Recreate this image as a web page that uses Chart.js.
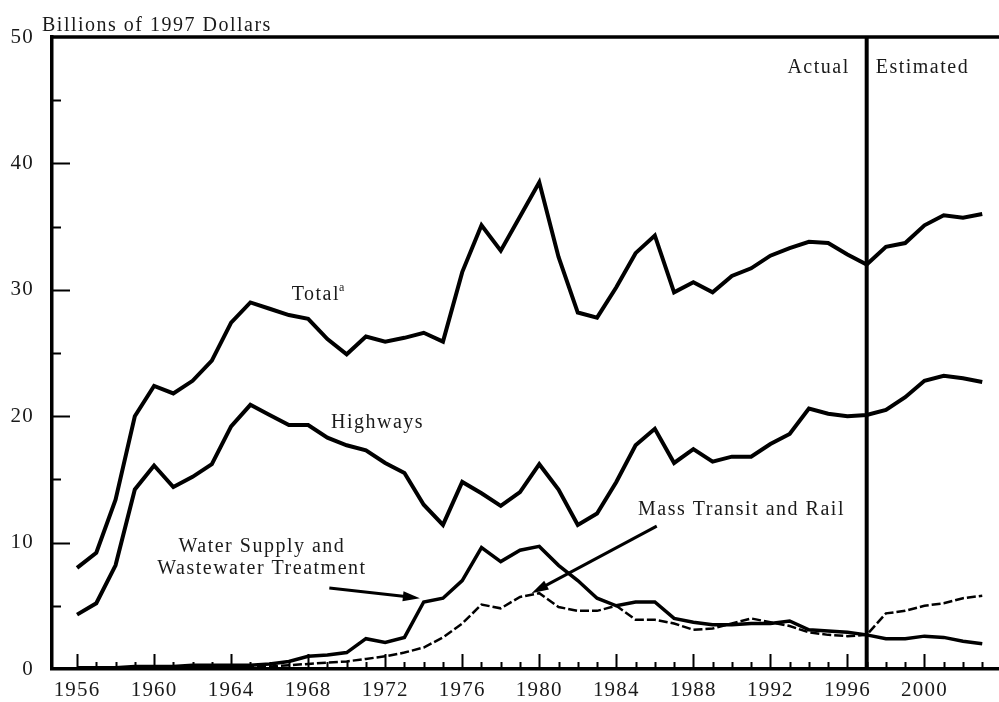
<!DOCTYPE html>
<html>
<head>
<meta charset="utf-8">
<script src="https://cdn.jsdelivr.net/npm/chart.js@4.4.1/dist/chart.umd.min.js"></script>
<style>
html, body { margin: 0; padding: 0; background: #fff; }
</style>
</head>
<body>
<canvas id="infraChart" width="999" height="702"></canvas>
<script>
// data, billions of 1997 dollars
var years = [1956, 1957, 1958, 1959, 1960, 1961, 1962, 1963, 1964, 1965,
  1966, 1967, 1968, 1969, 1970, 1971, 1972, 1973, 1974, 1975,
  1976, 1977, 1978, 1979, 1980, 1981, 1982, 1983, 1984, 1985,
  1986, 1987, 1988, 1989, 1990, 1991, 1992, 1993, 1994, 1995,
  1996, 1997, 1998, 1999, 2000, 2001, 2002, 2003];

var total = [8.0, 9.2, 13.4, 20.0, 22.4, 21.8, 22.8, 24.4, 27.4, 29.0,
  28.5, 28.0, 27.7, 26.1, 24.9, 26.3, 25.9, 26.2, 26.6, 25.9,
  31.4, 35.1, 33.1, 35.8, 38.5, 32.6, 28.2, 27.8, 30.2, 32.9,
  34.3, 29.8, 30.6, 29.8, 31.1, 31.7, 32.7, 33.3, 33.8, 33.7,
  32.8, 32.0, 33.4, 33.7, 35.1, 35.9, 35.7, 36.0];

var highways = [4.3, 5.2, 8.2, 14.2, 16.1, 14.4, 15.2, 16.2, 19.2, 20.9,
  20.1, 19.3, 19.3, 18.3, 17.7, 17.3, 16.3, 15.5, 13.0, 11.4,
  14.8, 13.9, 12.9, 14.0, 16.2, 14.2, 11.4, 12.3, 14.8, 17.7,
  19.0, 16.3, 17.4, 16.4, 16.8, 16.8, 17.8, 18.6, 20.6, 20.2,
  20.0, 20.1, 20.5, 21.5, 22.8, 23.2, 23.0, 22.7];

var water = [0.1, 0.1, 0.1, 0.2, 0.2, 0.2, 0.3, 0.3, 0.3, 0.3,
  0.4, 0.6, 1.0, 1.1, 1.3, 2.4, 2.1, 2.5, 5.3, 5.6,
  7.0, 9.6, 8.5, 9.4, 9.7, 8.2, 7.0, 5.6, 5.0, 5.3,
  5.3, 4.0, 3.7, 3.5, 3.5, 3.6, 3.6, 3.8, 3.1, 3.0,
  2.9, 2.7, 2.4, 2.4, 2.6, 2.5, 2.2, 2.0];

var transit = [0.1, 0.1, 0.1, 0.1, 0.1, 0.1, 0.2, 0.2, 0.2, 0.2,
  0.2, 0.3, 0.4, 0.5, 0.6, 0.8, 1.0, 1.3, 1.7, 2.5,
  3.6, 5.1, 4.8, 5.7, 6.0, 4.9, 4.6, 4.6, 5.0, 3.9,
  3.9, 3.6, 3.1, 3.2, 3.6, 4.0, 3.7, 3.4, 2.9, 2.7,
  2.6, 2.7, 4.4, 4.6, 5.0, 5.2, 5.6, 5.8];

var tickYears = [1956, 1960, 1964, 1968, 1972, 1976, 1980, 1984, 1988, 1992, 1996, 2000];
var yTicks = [0, 10, 20, 30, 40, 50];
var dividerYear = 1997;

// annotation anchors in data units: [year, value]
var waterArrow = [[1969.1, 6.4], [1973.8, 5.6]];
var transitArrow = [[1986.1, 11.3], [1979.6, 6.0]];

var serif = '"Liberation Serif", "DejaVu Serif", serif';

function pts(arr) {
  return years.map(function (yr, i) { return { x: yr, y: arr[i] }; });
}

var extras = {
  id: 'extras',
  beforeDraw: function (chart) {
    chart.ctx.letterSpacing = '1.2px';
  },
  afterDatasetsDraw: function (chart) {
    var c = chart.ctx, a = chart.chartArea;
    var xs = chart.scales.x, ys = chart.scales.y;
    function px(v) { return xs.getPixelForValue(v); }
    function py(v) { return ys.getPixelForValue(v); }

    c.save();
    c.strokeStyle = '#000';
    c.fillStyle = '#000';

    // top frame line
    c.lineWidth = 3.5;
    c.beginPath();
    c.moveTo(a.left - 1.75, a.top);
    c.lineTo(a.right, a.top);
    c.stroke();

    // actual / estimated divider
    var dx = px(dividerYear);
    c.lineWidth = 4;
    c.beginPath();
    c.moveTo(dx, a.top);
    c.lineTo(dx, a.bottom);
    c.stroke();

    // inside tick marks
    c.lineWidth = 2;
    c.beginPath();
    years.forEach(function (yr) {
      var len = (yr - 1956) % 4 === 0 ? 15 : 7;
      var x = Math.round(px(yr)) + 0.5;
      c.moveTo(x, a.bottom);
      c.lineTo(x, a.bottom - len);
    });
    for (var v = 5; v < 50; v += 5) {
      var len = v % 10 === 0 ? 18 : 9;
      var y = Math.round(py(v)) + 0.5;
      c.moveTo(a.left, y);
      c.lineTo(a.left + len, y);
    }
    c.stroke();

    // arrows
    function arrow(p) {
      var x1 = px(p[0][0]), y1 = py(p[0][1]), x2 = px(p[1][0]), y2 = py(p[1][1]);
      var ang = Math.atan2(y2 - y1, x2 - x1);
      c.lineWidth = 3;
      c.beginPath();
      c.moveTo(x1, y1);
      c.lineTo(x2 - 10 * Math.cos(ang), y2 - 10 * Math.sin(ang));
      c.stroke();
      var hl = 17, hw = 5;
      c.beginPath();
      c.moveTo(x2, y2);
      c.lineTo(x2 - hl * Math.cos(ang) + hw * Math.sin(ang), y2 - hl * Math.sin(ang) - hw * Math.cos(ang));
      c.lineTo(x2 - hl * Math.cos(ang) - hw * Math.sin(ang), y2 - hl * Math.sin(ang) + hw * Math.cos(ang));
      c.closePath();
      c.fill();
    }
    arrow(waterArrow);
    arrow(transitArrow);

    // text labels
    c.fillStyle = '#1a1a1a';
    c.letterSpacing = '1.5px';
    c.font = '20px ' + serif;
    c.textBaseline = 'middle';
    c.textAlign = 'center';
    c.fillText('Total', px(1968.4), py(29.6));
    var tw = c.measureText('Total').width;
    c.fillText('Highways', px(1971.6), py(19.5));
    c.fillText('Water Supply and', px(1965.6), py(9.65));
    c.fillText('Wastewater Treatment', px(1965.6), py(7.9));
    c.fillText('Mass Transit and Rail', px(1990.5), py(12.6));

    c.textAlign = 'right';
    c.fillText('Actual', dx - 17, py(47.6));
    c.textAlign = 'left';
    c.fillText('Estimated', dx + 9, py(47.6));

    c.textBaseline = 'alphabetic';
    c.fillText('Billions of 1997 Dollars', a.left - 10, a.top - 6);

    // footnote mark on Total
    c.letterSpacing = '0px';
    c.font = '12px ' + serif;
    c.fillText('a', px(1968.4) + tw / 2 - 1, py(29.6) - 4);

    c.restore();
  }
};

var ctx = document.getElementById('infraChart').getContext('2d');
var infraChart = new Chart(ctx, {
  type: 'line',
  data: {
    datasets: [
      { label: 'Total', data: pts(total), borderColor: '#000', borderWidth: 4 },
      { label: 'Highways', data: pts(highways), borderColor: '#000', borderWidth: 4 },
      { label: 'Water Supply and Wastewater Treatment', data: pts(water), borderColor: '#000', borderWidth: 3.5 },
      { label: 'Mass Transit and Rail', data: pts(transit), borderColor: '#000', borderWidth: 2.5, borderDash: [9, 3] }
    ]
  },
  options: {
    responsive: false,
    animation: false,
    layout: { padding: { top: 37, right: 0, left: 0, bottom: 0 } },
    elements: {
      point: { radius: 0, hoverRadius: 0 },
      line: { tension: 0, fill: false }
    },
    plugins: {
      legend: { display: false },
      tooltip: { enabled: false }
    },
    scales: {
      x: {
        type: 'linear',
        min: 1954.7,
        max: 2003.87,
        afterBuildTicks: function (s) {
          s.ticks = tickYears.map(function (v) { return { value: v }; });
        },
        afterFit: function (s) { s.height = 33; },
        grid: { display: false, drawTicks: false },
        border: { display: true, color: '#000', width: 3.5 },
        ticks: {
          color: '#1a1a1a',
          font: { family: serif, size: 21 },
          padding: 9,
          maxRotation: 0,
          autoSkip: false,
          callback: function (v) { return String(v); }
        }
      },
      y: {
        min: 0,
        max: 50,
        afterBuildTicks: function (s) {
          s.ticks = yTicks.map(function (v) { return { value: v }; });
        },
        afterFit: function (s) { s.width = 52; },
        grid: { display: false, drawTicks: false },
        border: { display: true, color: '#000', width: 3.5 },
        ticks: {
          color: '#1a1a1a',
          font: { family: serif, size: 21 },
          padding: 18,
          callback: function (v) { return String(v); }
        }
      }
    }
  },
  plugins: [extras]
});
</script>
</body>
</html>
